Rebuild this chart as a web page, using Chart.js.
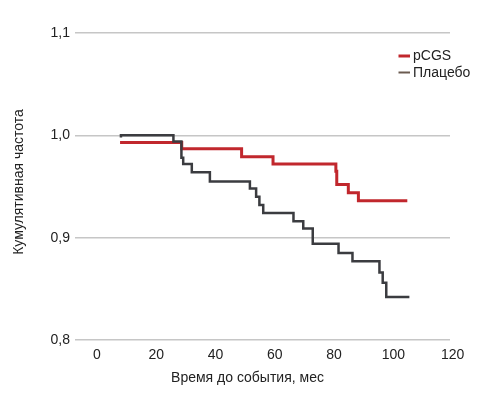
<!DOCTYPE html>
<html>
<head>
<meta charset="utf-8">
<script src="https://cdn.jsdelivr.net/npm/chart.js@4"></script>
<style>
html,body{margin:0;padding:0;background:#fff;}
#wrap{width:478px;height:396px;position:relative;}
</style>
</head>
<body>
<div id="wrap"><canvas id="c" width="478" height="396"></canvas></div>
<script>
const seriesNames = ['pCGS', 'Плацебо'];
const pcgsTimes  = [7.8, 28.6, 48.8, 59.4, 80.6, 80.9, 84.8, 88.2, 104.7];
const pcgsValues = [0.993, 0.987, 0.979, 0.972, 0.965, 0.952, 0.944, 0.936, 0.936];
const placeboTimes  = [8.1, 8.1, 25.8, 28.5, 29.1, 32.0, 38.1, 51.6, 53.7, 54.8, 56.1, 66.3, 69.6, 72.8, 81.5, 86.2, 95.3, 96.4, 97.6, 105.4];
const placeboValues = [0.998, 1.000, 0.994, 0.978, 0.972, 0.964, 0.955, 0.948, 0.940, 0.932, 0.924, 0.916, 0.909, 0.894, 0.885, 0.877, 0.866, 0.856, 0.842, 0.842];
const xTicks = [0, 20, 40, 60, 80, 100, 120];
const yTicks = [0.8, 0.9, 1.0, 1.1];
const xTitle = 'Время до события, мес';
const yTitle = 'Кумулятивная частота';

const FONT = "'Liberation Sans', Arial, sans-serif";
const RED = '#c1272d';
const DARK = '#3b3c40';
const LEGEND_DARK = '#6b5b50';

function pts(ts, vs){ return ts.map((t,i)=>({x:t, y:vs[i]})); }

const overlayPlugin = {
  id: 'overlay',
  afterDraw(chart){
    const ctx = chart.ctx;
    ctx.save();
    ctx.font = '14px ' + FONT;
    ctx.fillStyle = '#222';
    // legend
    const items = [
      {label: seriesNames[0], color: RED, w: 3, y: 56},
      {label: seriesNames[1], color: LEGEND_DARK, w: 2, y: 72.5}
    ];
    ctx.textBaseline = 'middle';
    ctx.textAlign = 'left';
    items.forEach(it=>{
      ctx.strokeStyle = it.color;
      ctx.lineWidth = it.w;
      ctx.beginPath();
      ctx.moveTo(398.5, it.y);
      ctx.lineTo(410, it.y);
      ctx.stroke();
      ctx.fillText(it.label, 413, it.y + 0.5);
    });
    // axis titles
    ctx.textAlign = 'center';
    ctx.fillText(xTitle, 247.5, 378);
    ctx.translate(19, 182);
    ctx.rotate(-Math.PI/2);
    ctx.fillText(yTitle, 0, 0);
    ctx.restore();
  }
};

new Chart(document.getElementById('c'), {
  type: 'line',
  data: {
    datasets: [
      {label: seriesNames[1], data: pts(placeboTimes, placeboValues), borderColor: DARK, borderWidth: 2.5, stepped: 'before', pointRadius: 0, fill: false, borderCapStyle: 'butt', borderJoinStyle: 'miter'},
      {label: seriesNames[0], data: pts(pcgsTimes, pcgsValues), borderColor: RED, borderWidth: 3, stepped: 'before', pointRadius: 0, fill: false, borderCapStyle: 'butt', borderJoinStyle: 'miter'}
    ]
  },
  options: {
    responsive: false,
    animation: false,
    devicePixelRatio: 1,
    layout: {padding: {top: 33, right: 28, bottom: 0, left: 0}},
    plugins: {legend: {display: false}, tooltip: {enabled: false}},
    scales: {
      x: {
        type: 'linear',
        min: -7.4,
        max: 119.1,
        afterBuildTicks(scale){ scale.ticks = xTicks.map(v=>({value:v})); },
        afterFit(scale){ scale.height = 56; },
        grid: {display: false, drawTicks: false},
        border: {display: false},
        ticks: {autoSkip: false, maxRotation: 0, padding: 7, color: '#222', font: {family: FONT, size: 14}, callback: v => String(v)},
        title: {display: false}
      },
      y: {
        type: 'linear',
        min: 0.8,
        max: 1.1,
        afterBuildTicks(scale){ scale.ticks = yTicks.map(v=>({value:v})); },
        afterFit(scale){ scale.width = 75; },
        grid: {display: true, drawTicks: false, color: '#c6c6c6', lineWidth: 1.5},
        border: {display: false},
        ticks: {padding: 5, color: '#222', font: {family: FONT, size: 14}, callback: v => Number(v).toFixed(1).replace('.', ',')},
        title: {display: false}
      }
    }
  },
  plugins: [overlayPlugin]
});
</script>
</body>
</html>
